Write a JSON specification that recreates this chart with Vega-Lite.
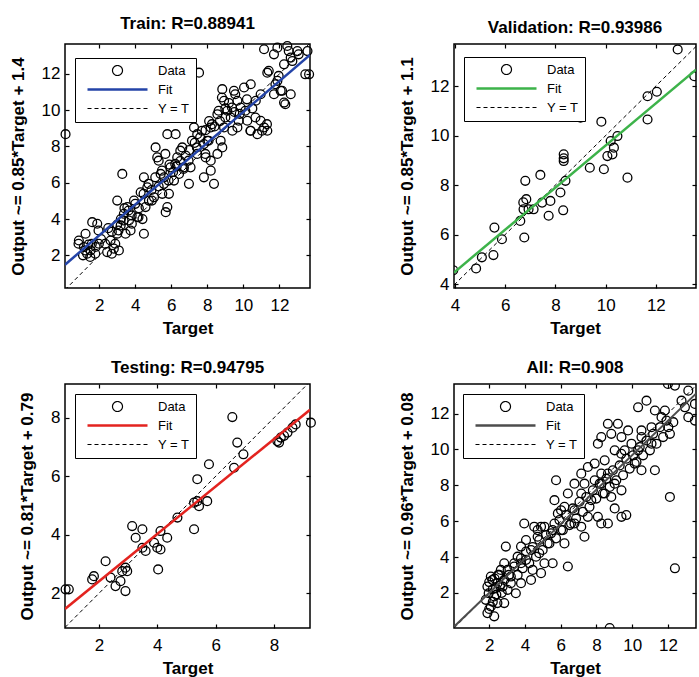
{
  "$schema": "https://vega.github.io/schema/vega-lite/v6.json",
  "background": "white",
  "padding": {"left": 8, "top": 14, "right": 0, "bottom": 0},
  "columns": 2,
  "bounds": "flush",
  "spacing": {"row": 96, "column": 144},
  "resolve": {"scale": {"x": "independent", "y": "independent", "color": "independent"}, "legend": {"color": "independent"}},
  "config": {
    "view": {"stroke": "black", "strokeWidth": 1.5},
    "font": "Liberation Sans",
    "title": {"fontSize": 17, "fontWeight": "bold", "font": "Liberation Sans", "color": "black", "anchor": "middle", "frame": "group", "offset": 6},
    "axis": {"domain": false, "grid": false, "tickSize": -4, "tickColor": "black", "tickWidth": 1.2, "labelFont": "Liberation Sans", "labelFontSize": 17, "labelColor": "black", "titleFont": "Liberation Sans", "titleFontSize": 17, "titleFontWeight": "bold", "titleColor": "black", "labelFlush": false, "labelOverlap": false},
    "axisBottom": {"labelPadding": 13, "titlePadding": 7},
    "axisLeft": {"labelPadding": 9, "titlePadding": 14},
    "legend": {"orient": "none", "title": null, "symbolSize": 100, "labelOffset": 64, "rowPadding": 5, "padding": 6, "fillColor": "white", "strokeColor": "black", "labelFont": "Liberation Sans", "labelFontSize": 13, "labelColor": "black",
      "symbolType": {"expr": "datum.value === 'Data' ? 'M7,0A1,1 0 1,1 5,0A1,1 0 1,1 7,0Z' : 'M0,0H12'"},
      "symbolDash": {"expr": "datum.value === 'Y = T' ? [4,3] : [1,0]"},
      "symbolStrokeWidth": {"expr": "datum.value === 'Fit' ? 2.5 : 1.2"},
      "symbolFillColor": "transparent"}
  },
  "concat": [
    {
      "width": 245, "height": 244,
      "title": "Train: R=0.88941",
      "layer": [
        {
          "data": {"values": [
            {"t":0.13,"o":8.68},{"t":0.87,"o":2.82},{"t":1.15,"o":2.46},{"t":1.33,"o":2.09},{"t":1.61,"o":3.83},{"t":1.89,"o":3.74},{"t":1.24,"o":3.19},{"t":1.8,"o":2.46},{"t":1.52,"o":2.27},{"t":1.98,"o":2.64},
            {"t":2.44,"o":2.18},{"t":2.81,"o":2.37},{"t":3.09,"o":2.27},{"t":3.0,"o":3.19},{"t":2.63,"o":2.82},{"t":3.28,"o":6.49},{"t":3.0,"o":5.02},{"t":3.37,"o":4.29},{"t":3.65,"o":3.92},{"t":3.74,"o":3.37},
            {"t":4.11,"o":4.1},{"t":4.48,"o":3.19},{"t":4.57,"o":4.66},{"t":3.93,"o":5.02},{"t":3.56,"o":4.66},{"t":3.19,"o":3.65},{"t":3.46,"o":3.19},{"t":4.3,"o":5.48},{"t":4.67,"o":5.75},{"t":4.48,"o":6.3},
            {"t":4.76,"o":5.02},{"t":5.04,"o":5.2},{"t":5.69,"o":4.38},{"t":5.78,"o":4.66},{"t":5.13,"o":7.95},{"t":5.22,"o":7.4},{"t":5.41,"o":6.49},{"t":5.59,"o":5.94},{"t":5.96,"o":6.85},{"t":6.15,"o":6.12},
            {"t":6.33,"o":7.4},{"t":6.61,"o":7.95},{"t":6.7,"o":6.85},{"t":6.43,"o":6.49},{"t":6.98,"o":5.94},{"t":5.87,"o":5.39},{"t":5.5,"o":5.39},{"t":5.78,"o":8.68},{"t":6.24,"o":8.68},{"t":7.07,"o":6.85},
            {"t":7.44,"o":7.59},{"t":7.81,"o":8.14},{"t":7.44,"o":8.68},{"t":7.54,"o":12.07},{"t":7.26,"o":9.05},{"t":8.19,"o":9.05},{"t":8.0,"o":8.32},{"t":7.91,"o":7.4},{"t":8.19,"o":6.67},{"t":8.37,"o":5.94},
            {"t":7.81,"o":6.3},{"t":8.19,"o":7.22},{"t":8.56,"o":7.59},{"t":8.74,"o":8.32},{"t":8.83,"o":7.95},{"t":8.83,"o":11.16},{"t":8.93,"o":10.52},{"t":9.11,"o":9.97},{"t":9.3,"o":9.6},{"t":9.67,"o":10.52},
            {"t":10.04,"o":11.25},{"t":10.41,"o":11.43},{"t":9.85,"o":10.15},{"t":10.22,"o":9.42},{"t":10.41,"o":8.87},{"t":10.78,"o":8.68},{"t":10.96,"o":9.42},{"t":11.15,"o":9.05},{"t":11.33,"o":8.87},{"t":10.69,"o":10.52},
            {"t":10.96,"o":10.88},{"t":9.39,"o":8.87},{"t":8.93,"o":9.05},{"t":9.67,"o":9.05},{"t":8.56,"o":9.78},{"t":9.48,"o":11.07},{"t":11.15,"o":13.36},{"t":11.7,"o":13.08},{"t":11.89,"o":13.45},{"t":12.44,"o":13.54},
            {"t":12.63,"o":12.9},{"t":13.0,"o":13.26},{"t":13.56,"o":13.26},{"t":13.65,"o":11.98},{"t":12.26,"o":12.53},{"t":11.33,"o":12.07},{"t":11.89,"o":11.62},{"t":12.07,"o":11.07},{"t":12.63,"o":10.88},{"t":12.26,"o":10.42},
            {"t":11.7,"o":10.88},{"t":12.72,"o":12.71},
            {"t":0.85,"o":2.64},{"t":1.22,"o":2.27},{"t":1.59,"o":2.64},{"t":1.78,"o":2.09},{"t":1.5,"o":1.91},{"t":1.96,"o":3.37},{"t":2.33,"o":2.64},{"t":2.7,"o":2.09},{"t":2.89,"o":2.64},{"t":3.07,"o":3.37},
            {"t":3.35,"o":3.92},{"t":3.63,"o":4.47},{"t":3.81,"o":3.74},{"t":4.0,"o":4.84},{"t":4.18,"o":4.11},{"t":4.46,"o":5.39},{"t":4.74,"o":5.94},{"t":4.92,"o":5.02},{"t":5.11,"o":6.3},{"t":5.3,"o":7.22},
            {"t":5.48,"o":6.67},{"t":5.67,"o":7.59},{"t":5.85,"o":6.12},{"t":6.22,"o":7.04},{"t":6.5,"o":7.77},{"t":6.68,"o":6.76},{"t":6.96,"o":7.22},{"t":7.15,"o":8.32},{"t":7.42,"o":7.95},{"t":7.7,"o":8.87},
            {"t":7.89,"o":7.59},{"t":8.07,"o":8.32},{"t":8.26,"o":9.23},{"t":8.63,"o":9.97},{"t":8.81,"o":10.7},{"t":9.0,"o":9.6},{"t":9.37,"o":10.15},{"t":9.55,"o":10.88},{"t":9.74,"o":9.42},{"t":10.11,"o":9.97},
            {"t":10.39,"o":8.87},{"t":10.67,"o":9.6},{"t":11.04,"o":8.87},{"t":11.31,"o":9.23},{"t":11.41,"o":12.17},{"t":11.78,"o":11.43},{"t":12.15,"o":11.07},{"t":12.33,"o":10.33},{"t":11.96,"o":11.89},{"t":13.07,"o":13.08},
            {"t":12.52,"o":13.26},{"t":13.44,"o":11.98},
            {"t":2.1,"o":2.9},{"t":2.5,"o":3.5},{"t":3.2,"o":4.0},{"t":3.4,"o":4.6},{"t":3.8,"o":4.2},{"t":4.2,"o":4.6},{"t":4.4,"o":4.0},{"t":4.9,"o":5.6},{"t":5.3,"o":5.8},{"t":5.6,"o":6.3},
            {"t":5.9,"o":7.0},{"t":6.1,"o":6.6},{"t":6.3,"o":6.9},{"t":6.5,"o":7.2},{"t":6.8,"o":7.5},{"t":7.0,"o":7.8},{"t":7.3,"o":8.2},{"t":7.6,"o":8.5},{"t":7.9,"o":8.9},{"t":8.1,"o":9.4},
            {"t":8.4,"o":9.1},{"t":8.7,"o":9.4},{"t":9.0,"o":10.1},{"t":9.2,"o":10.4},{"t":9.5,"o":9.9},{"t":9.8,"o":9.8},{"t":10.2,"o":10.6},{"t":10.5,"o":10.1},{"t":3.0,"o":3.7},{"t":2.7,"o":3.3},
            {"t":1.1,"o":2.0},{"t":1.4,"o":2.6}
          ]},
          "mark": {"type": "point", "filled": false, "size": 78, "strokeWidth": 1.3, "opacity": 1},
          "encoding": {
            "x": {"field": "t", "type": "quantitative", "scale": {"domain": [0.1, 13.7], "nice": false, "zero": false}, "axis": {"orient": "bottom", "values": [2,4,6,8,10,12], "title": "Target"}},
            "y": {"field": "o", "type": "quantitative", "scale": {"domain": [0.2, 13.65], "nice": false, "zero": false}, "axis": {"orient": "left", "values": [2,4,6,8,10,12], "title": "Output ~= 0.85*Target + 1.4"}},
            "color": {"datum": "Data", "type": "nominal", "scale": {"domain": ["Data", "Fit", "Y = T"], "range": ["black", "#2444a8", "black"]},
              "legend": {"legendX": 10, "legendY": 14, "labelExpr": "datum.label + '\u00a0'"}}
          }
        },
        {
          "data": {"values": [{"t": 0.1, "o": 0.1}, {"t": 13.7, "o": 13.7}]},
          "mark": {"type": "line", "strokeDash": [4, 3], "strokeWidth": 1, "clip": true},
          "encoding": {
            "x": {"field": "t", "type": "quantitative", "axis": {"orient": "top", "values": [2,4,6,8,10,12], "labels": false, "title": null}},
            "y": {"field": "o", "type": "quantitative", "axis": {"orient": "right", "values": [2,4,6,8,10,12], "labels": false, "title": null}},
            "color": {"datum": "Y = T", "type": "nominal", "legend": null}
          }
        },
        {
          "data": {"values": [{"t": 0.1, "o": 1.485}, {"t": 13.7, "o": 13.045}]},
          "mark": {"type": "line", "strokeWidth": 2.5, "clip": true},
          "encoding": {
            "x": {"field": "t", "type": "quantitative", "axis": null},
            "y": {"field": "o", "type": "quantitative", "axis": null},
            "color": {"datum": "Fit", "type": "nominal", "legend": null}
          }
        }
      ],
      "resolve": {"axis": {"x": "independent", "y": "independent"}}
    },
    {
      "width": 242, "height": 244,
      "title": "Validation: R=0.93986",
      "layer": [
        {
          "data": {"values": [
            {"t":3.93,"o":4.56},{"t":4.84,"o":4.63},{"t":5.07,"o":5.08},{"t":5.53,"o":5.17},{"t":5.57,"o":6.28},{"t":5.87,"o":5.81},{"t":6.6,"o":6.55},{"t":6.76,"o":5.88},{"t":6.8,"o":8.17},{"t":6.84,"o":7.43},
            {"t":6.73,"o":7.02},{"t":6.93,"o":7.02},{"t":7.13,"o":7.02},{"t":7.4,"o":8.41},{"t":7.47,"o":7.29},{"t":7.73,"o":6.76},{"t":7.8,"o":7.36},{"t":8.2,"o":7.7},{"t":8.31,"o":6.98},{"t":8.33,"o":9.24},
            {"t":8.33,"o":8.97},{"t":8.4,"o":8.17},{"t":9.0,"o":10.72},{"t":9.37,"o":8.7},{"t":9.83,"o":10.56},{"t":9.93,"o":8.64},{"t":10.2,"o":9.78},{"t":10.27,"o":9.24},{"t":10.33,"o":9.51},{"t":10.47,"o":9.98},
            {"t":10.07,"o":9.17},{"t":10.87,"o":8.3},{"t":11.67,"o":10.65},{"t":11.67,"o":11.59},{"t":12.04,"o":11.77},{"t":12.87,"o":13.48},{"t":13.53,"o":12.4},{"t":8.33,"o":9.08},{"t":6.72,"o":7.3}
          ]},
          "mark": {"type": "point", "filled": false, "size": 78, "strokeWidth": 1.3, "opacity": 1, "clip": true},
          "encoding": {
            "x": {"field": "t", "type": "quantitative", "scale": {"domain": [3.96, 13.6], "nice": false, "zero": false}, "axis": {"orient": "bottom", "values": [4,6,8,10,12], "title": "Target"}},
            "y": {"field": "o", "type": "quantitative", "scale": {"domain": [3.84, 13.7], "nice": false, "zero": false}, "axis": {"orient": "left", "values": [4,6,8,10,12], "title": "Output ~= 0.85*Target + 1.1"}},
            "color": {"datum": "Data", "type": "nominal", "scale": {"domain": ["Data", "Fit", "Y = T"], "range": ["black", "#3db34a", "black"]},
              "legend": {"legendX": 10, "legendY": 13, "labelExpr": "datum.label + '\u00a0'"}}
          }
        },
        {
          "data": {"values": [{"t": 3.96, "o": 3.96}, {"t": 13.7, "o": 13.7}]},
          "mark": {"type": "line", "strokeDash": [4, 3], "strokeWidth": 1, "clip": true},
          "encoding": {
            "x": {"field": "t", "type": "quantitative", "axis": {"orient": "top", "values": [4,6,8,10,12], "labels": false, "title": null}},
            "y": {"field": "o", "type": "quantitative", "axis": {"orient": "right", "values": [4,6,8,10,12], "labels": false, "title": null}},
            "color": {"datum": "Y = T", "type": "nominal", "legend": null}
          }
        },
        {
          "data": {"values": [{"t": 3.96, "o": 4.466}, {"t": 13.6, "o": 12.66}]},
          "mark": {"type": "line", "strokeWidth": 2.5, "clip": true},
          "encoding": {
            "x": {"field": "t", "type": "quantitative", "axis": null},
            "y": {"field": "o", "type": "quantitative", "axis": null},
            "color": {"datum": "Fit", "type": "nominal", "legend": null}
          }
        }
      ],
      "resolve": {"axis": {"x": "independent", "y": "independent"}}
    },
    {
      "width": 245, "height": 244,
      "title": "Testing: R=0.94795",
      "layer": [
        {
          "data": {"values": [
            {"t":0.86,"o":2.14},{"t":0.97,"o":2.14},{"t":1.77,"o":2.48},{"t":1.83,"o":2.59},{"t":2.23,"o":3.1},{"t":2.4,"o":2.54},{"t":2.57,"o":2.25},{"t":2.74,"o":2.42},{"t":2.8,"o":2.76},{"t":2.91,"o":2.88},
            {"t":2.91,"o":2.08},{"t":2.97,"o":2.76},{"t":3.14,"o":4.3},{"t":3.26,"o":3.9},{"t":3.49,"o":4.19},{"t":3.49,"o":3.56},{"t":3.6,"o":3.45},{"t":3.89,"o":3.73},{"t":4.0,"o":3.56},{"t":4.03,"o":2.82},
            {"t":4.11,"o":3.5},{"t":4.11,"o":4.13},{"t":4.34,"o":3.9},{"t":4.69,"o":4.59},{"t":5.26,"o":4.19},{"t":5.26,"o":5.1},{"t":5.37,"o":5.15},{"t":5.37,"o":5.9},{"t":5.43,"o":4.98},{"t":5.71,"o":5.15},
            {"t":5.77,"o":6.41},{"t":6.57,"o":8.02},{"t":6.63,"o":6.29},{"t":6.74,"o":7.15},{"t":6.95,"o":6.75},{"t":8.11,"o":7.2},{"t":8.23,"o":7.32},{"t":8.34,"o":7.38},{"t":8.46,"o":7.49},{"t":8.63,"o":7.66},
            {"t":8.74,"o":7.77},{"t":9.26,"o":7.83},{"t":8.17,"o":7.15}
          ]},
          "mark": {"type": "point", "filled": false, "size": 78, "strokeWidth": 1.3, "opacity": 1},
          "encoding": {
            "x": {"field": "t", "type": "quantitative", "scale": {"domain": [0.84, 9.23], "nice": false, "zero": false}, "axis": {"orient": "bottom", "values": [2,4,6,8], "title": "Target"}},
            "y": {"field": "o", "type": "quantitative", "scale": {"domain": [0.82, 9.15], "nice": false, "zero": false}, "axis": {"orient": "left", "values": [2,4,6,8], "title": "Output ~= 0.81*Target + 0.79"}},
            "color": {"datum": "Data", "type": "nominal", "scale": {"domain": ["Data", "Fit", "Y = T"], "range": ["black", "#e3231f", "black"]},
              "legend": {"legendX": 10, "legendY": 10, "labelExpr": "datum.label + '\u00a0'"}}
          }
        },
        {
          "data": {"values": [{"t": 0.84, "o": 0.84}, {"t": 9.23, "o": 9.23}]},
          "mark": {"type": "line", "strokeDash": [4, 3], "strokeWidth": 1, "clip": true},
          "encoding": {
            "x": {"field": "t", "type": "quantitative", "axis": {"orient": "top", "values": [2,4,6,8], "labels": false, "title": null}},
            "y": {"field": "o", "type": "quantitative", "axis": {"orient": "right", "values": [2,4,6,8], "labels": false, "title": null}},
            "color": {"datum": "Y = T", "type": "nominal", "legend": null}
          }
        },
        {
          "data": {"values": [{"t": 0.84, "o": 1.47}, {"t": 9.23, "o": 8.27}]},
          "mark": {"type": "line", "strokeWidth": 2.5, "clip": true},
          "encoding": {
            "x": {"field": "t", "type": "quantitative", "axis": null},
            "y": {"field": "o", "type": "quantitative", "axis": null},
            "color": {"datum": "Fit", "type": "nominal", "legend": null}
          }
        }
      ],
      "resolve": {"axis": {"x": "independent", "y": "independent"}}
    },
    {
      "width": 242, "height": 244,
      "title": "All: R=0.908",
      "layer": [
        {
          "data": {"values": [
            {"t":1.9,"o":0.87},{"t":2.09,"o":1.24},{"t":1.81,"o":1.61},{"t":2.28,"o":1.8},{"t":1.9,"o":2.35},{"t":2.46,"o":2.54},{"t":2.09,"o":2.91},{"t":2.84,"o":2.72},{"t":2.65,"o":3.28},{"t":2.93,"o":4.58},
            {"t":3.03,"o":2.17},{"t":3.49,"o":1.98},{"t":2.84,"o":1.43},{"t":2.28,"o":0.69},{"t":1.97,"o":1.98},{"t":3.21,"o":2.54},{"t":3.4,"o":3.47},{"t":3.78,"o":3.65},{"t":3.59,"o":4.02},{"t":4.06,"o":3.84},
            {"t":4.34,"o":4.39},{"t":4.06,"o":4.95},{"t":3.96,"o":5.87},{"t":4.52,"o":5.69},{"t":4.71,"o":5.13},{"t":4.43,"o":3.28},{"t":4.9,"o":3.1},{"t":5.55,"o":3.65},{"t":5.09,"o":3.65},{"t":4.8,"o":4.21},
            {"t":5.27,"o":4.76},{"t":5.46,"o":5.32},{"t":5.65,"o":5.87},{"t":6.02,"o":5.5},{"t":6.4,"o":3.47},{"t":6.21,"o":4.76},{"t":5.84,"o":6.43},{"t":6.21,"o":6.8},{"t":5.65,"o":7.17},{"t":6.4,"o":7.54},
            {"t":6.77,"o":6.61},{"t":5.74,"o":8.28},{"t":6.58,"o":5.87},{"t":7.15,"o":5.69},{"t":7.33,"o":5.13},{"t":7.52,"o":6.24},{"t":7.71,"o":7.17},{"t":8.08,"o":6.24},{"t":8.27,"o":5.87},{"t":8.64,"o":5.87},
            {"t":9.4,"o":6.24},{"t":9.67,"o":6.34},{"t":9.02,"o":6.71},{"t":6.77,"o":8.09},{"t":7.15,"o":8.65},{"t":7.52,"o":9.02},{"t":7.33,"o":8.09},{"t":7.9,"o":8.28},{"t":8.27,"o":8.09},{"t":8.46,"o":7.54},
            {"t":8.83,"o":7.35},{"t":9.02,"o":8.09},{"t":9.4,"o":7.72},{"t":8.64,"o":8.65},{"t":7.9,"o":9.21},{"t":8.46,"o":9.39},{"t":8.83,"o":10.87},{"t":8.27,"o":10.69},{"t":8.08,"o":10.32},{"t":8.64,"o":11.43},
            {"t":9.2,"o":11.43},{"t":9.4,"o":10.69},{"t":9.58,"o":9.95},{"t":9.96,"o":10.32},{"t":10.33,"o":9.95},{"t":10.14,"o":9.21},{"t":10.52,"o":8.84},{"t":9.02,"o":9.95},{"t":9.77,"o":11.06},{"t":10.52,"o":10.69},
            {"t":11.08,"o":10.32},{"t":11.27,"o":8.84},{"t":11.08,"o":11.24},{"t":10.33,"o":12.35},{"t":10.8,"o":12.72},{"t":11.27,"o":12.17},{"t":11.64,"o":11.8},{"t":12.02,"o":11.24},{"t":12.3,"o":11.52},{"t":11.83,"o":12.17},
            {"t":12.11,"o":7.35},{"t":12.39,"o":3.37},{"t":8.74,"o":0.04},{"t":12.0,"o":13.65},{"t":12.39,"o":13.56},{"t":13.14,"o":13.28},{"t":12.95,"o":12.35},{"t":13.51,"o":12.54},{"t":13.14,"o":11.8},{"t":13.51,"o":11.61},
            {"t":12.76,"o":12.72},{"t":6.77,"o":5.87},{"t":4.71,"o":5.5},{"t":5.09,"o":5.69},{"t":3.78,"o":2.54},{"t":4.34,"o":2.72},{"t":2.46,"o":1.43},
            {"t":2.18,"o":2.72},{"t":2.37,"o":2.26},{"t":2.56,"o":3.0},{"t":2.75,"o":2.35},{"t":3.03,"o":3.28},{"t":3.21,"o":2.91},{"t":3.4,"o":3.65},{"t":3.59,"o":3.0},{"t":3.78,"o":3.93},{"t":3.87,"o":3.37},
            {"t":4.06,"o":4.3},{"t":4.24,"o":3.65},{"t":4.43,"o":4.56},{"t":4.62,"o":4.02},{"t":4.8,"o":4.95},{"t":4.99,"o":4.39},{"t":5.18,"o":5.22},{"t":5.37,"o":4.76},{"t":5.55,"o":5.5},{"t":5.74,"o":5.04},
            {"t":5.93,"o":6.06},{"t":6.12,"o":5.5},{"t":6.3,"o":6.34},{"t":6.49,"o":5.78},{"t":6.68,"o":6.71},{"t":6.86,"o":6.15},{"t":7.05,"o":7.08},{"t":7.24,"o":6.52},{"t":7.43,"o":7.35},{"t":7.61,"o":6.8},
            {"t":7.8,"o":7.72},{"t":7.99,"o":7.26},{"t":8.18,"o":8.09},{"t":8.36,"o":7.54},{"t":8.55,"o":8.37},{"t":8.74,"o":7.91},{"t":8.92,"o":8.84},{"t":9.11,"o":8.28},{"t":9.3,"o":9.11},{"t":9.49,"o":8.56},
            {"t":9.67,"o":9.48},{"t":9.86,"o":8.93},{"t":10.05,"o":9.67},{"t":10.24,"o":9.3},{"t":10.42,"o":10.13},{"t":10.61,"o":9.67},{"t":10.8,"o":10.5},{"t":10.99,"o":9.95},{"t":11.17,"o":10.87},{"t":11.36,"o":10.32},
            {"t":11.55,"o":11.24},{"t":11.73,"o":10.69},{"t":11.92,"o":11.61},{"t":12.11,"o":10.87},{"t":6.02,"o":6.61},{"t":7.15,"o":7.54},{"t":8.27,"o":8.65},{"t":9.39,"o":9.76},{"t":10.52,"o":11.06},{"t":4.9,"o":5.69},
            {"t":3.78,"o":4.58},{"t":2.84,"o":3.65},
            {"t":2.0,"o":2.6},{"t":2.2,"o":2.2},{"t":2.4,"o":1.9},{"t":2.6,"o":2.4},{"t":2.2,"o":1.5},{"t":2.0,"o":1.1},{"t":2.5,"o":3.0},{"t":3.1,"o":3.0},{"t":2.7,"o":2.0},{"t":2.3,"o":2.8}
          ]},
          "mark": {"type": "point", "filled": false, "size": 78, "strokeWidth": 1.3, "opacity": 1, "clip": true},
          "encoding": {
            "x": {"field": "t", "type": "quantitative", "scale": {"domain": [0.03, 13.57], "nice": false, "zero": false}, "axis": {"orient": "bottom", "values": [2,4,6,8,10,12], "title": "Target"}},
            "y": {"field": "o", "type": "quantitative", "scale": {"domain": [0.04, 13.65], "nice": false, "zero": false}, "axis": {"orient": "left", "values": [2,4,6,8,10,12], "title": "Output ~= 0.96*Target + 0.08"}},
            "color": {"datum": "Data", "type": "nominal", "scale": {"domain": ["Data", "Fit", "Y = T"], "range": ["black", "#4d4d4d", "black"]},
              "legend": {"legendX": 9, "legendY": 10, "labelExpr": "datum.label + '\u00a0'"}}
          }
        },
        {
          "data": {"values": [{"t": 0.03, "o": 0.03}, {"t": 13.65, "o": 13.65}]},
          "mark": {"type": "line", "strokeDash": [4, 3], "strokeWidth": 1, "clip": true},
          "encoding": {
            "x": {"field": "t", "type": "quantitative", "axis": {"orient": "top", "values": [2,4,6,8,10,12], "labels": false, "title": null}},
            "y": {"field": "o", "type": "quantitative", "axis": {"orient": "right", "values": [2,4,6,8,10,12], "labels": false, "title": null}},
            "color": {"datum": "Y = T", "type": "nominal", "legend": null}
          }
        },
        {
          "data": {"values": [{"t": 0.03, "o": 0.109}, {"t": 13.57, "o": 13.107}]},
          "mark": {"type": "line", "strokeWidth": 2, "clip": true},
          "encoding": {
            "x": {"field": "t", "type": "quantitative", "axis": null},
            "y": {"field": "o", "type": "quantitative", "axis": null},
            "color": {"datum": "Fit", "type": "nominal", "legend": null}
          }
        }
      ],
      "resolve": {"axis": {"x": "independent", "y": "independent"}}
    }
  ]
}
